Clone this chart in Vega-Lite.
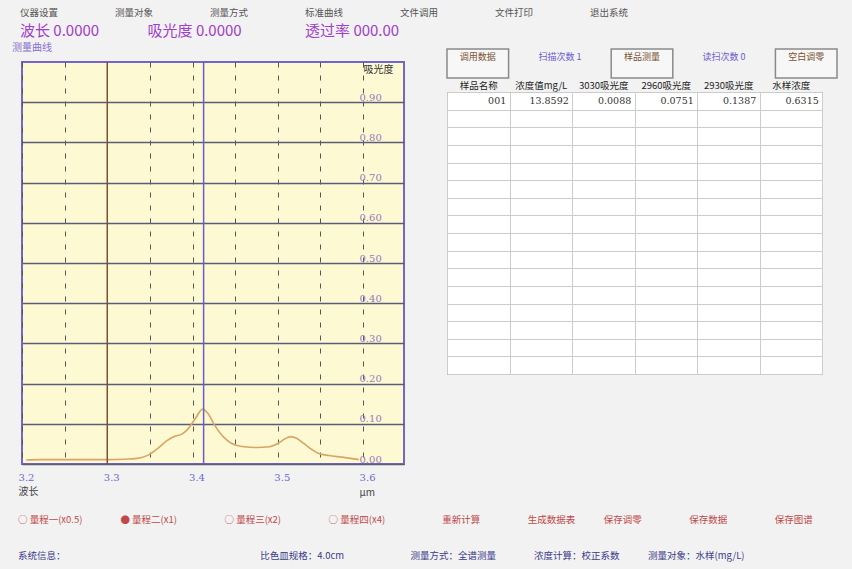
{
  "$schema": "https://vega.github.io/schema/vega-lite/v6.json",
  "background": "#f2f2f2",
  "padding": {"left": 11, "top": 7, "right": 20, "bottom": 12},
  "config": {
    "font": "Noto Sans CJK SC",
    "title": {"font": "Noto Sans CJK SC", "subtitleFont": "Noto Sans CJK SC"}
  },
  "title": {
    "text": "仪器设置　　　　　　测量对象　　　　　　测量方式　　　　　　标准曲线　　　　　　文件调用　　　　　　文件打印　　　　　　退出系统",
    "subtitle": "波长 0.0000　　　 吸光度 0.0000　　　　 透过率 000.00",
    "anchor": "start",
    "fontSize": 9.5,
    "fontWeight": "normal",
    "color": "#555555",
    "subtitleFontSize": 15,
    "subtitleColor": "#a040c8",
    "subtitlePadding": 7,
    "offset": 3,
    "dx": 9
  },
  "vconcat": [
    {
      "title": {
        "text": "○ 量程一(x0.5)　　　　● 量程二(x1)　　　　　○ 量程三(x2)　　　　　○ 量程四(x4)　　　　　　重新计算　　　　　生成数据表　　　保存调零　　　　　保存数据　　　　　保存图谱",
        "subtitle": "系统信息：　　　　　　　　　　　　　　　　　　　　　比色皿规格：4.0cm　　　　　　　测量方式：全谱测量　　　　浓度计算：校正系数　　　测量对象：水样(mg/L)",
        "orient": "bottom",
        "anchor": "start",
        "dx": 7,
        "fontSize": 9.5,
        "fontWeight": "normal",
        "color": "#c04848",
        "subtitleFontSize": 9.5,
        "subtitleColor": "#3a3a8a",
        "subtitlePadding": 26,
        "offset": 17
      },
      "spacing": 41,
      "hconcat": [
        {
          "title": {"text": "μm", "orient": "bottom", "anchor": "end", "dx": -30, "fontSize": 10, "fontWeight": "normal", "color": "#444444", "offset": -9},
          "vconcat": [
            {
              "width": 382,
              "height": 402,
              "title": {"text": "测量曲线", "anchor": "start", "fontSize": 10, "fontWeight": "normal", "color": "#8b6fd0", "offset": 8, "dx": -6},
              "view": {"fill": "#fdf9d3", "stroke": "#7565c8", "strokeWidth": 2},
              "layer": [
                {
                  "data": {"values": [
                    {"wavelength": 3.205, "absorbance": 0.010},
                    {"wavelength": 3.22, "absorbance": 0.011},
                    {"wavelength": 3.25, "absorbance": 0.011},
                    {"wavelength": 3.28, "absorbance": 0.011},
                    {"wavelength": 3.30, "absorbance": 0.011},
                    {"wavelength": 3.32, "absorbance": 0.012},
                    {"wavelength": 3.335, "absorbance": 0.014},
                    {"wavelength": 3.348, "absorbance": 0.022},
                    {"wavelength": 3.36, "absorbance": 0.040},
                    {"wavelength": 3.37, "absorbance": 0.058},
                    {"wavelength": 3.378, "absorbance": 0.068},
                    {"wavelength": 3.388, "absorbance": 0.075},
                    {"wavelength": 3.395, "absorbance": 0.088},
                    {"wavelength": 3.403, "absorbance": 0.112},
                    {"wavelength": 3.412, "absorbance": 0.137},
                    {"wavelength": 3.418, "absorbance": 0.126},
                    {"wavelength": 3.425, "absorbance": 0.100},
                    {"wavelength": 3.432, "absorbance": 0.078},
                    {"wavelength": 3.44, "absorbance": 0.060},
                    {"wavelength": 3.45, "absorbance": 0.047},
                    {"wavelength": 3.46, "absorbance": 0.043},
                    {"wavelength": 3.475, "absorbance": 0.041},
                    {"wavelength": 3.49, "absorbance": 0.043},
                    {"wavelength": 3.50, "absorbance": 0.051},
                    {"wavelength": 3.508, "absorbance": 0.062},
                    {"wavelength": 3.515, "absorbance": 0.068},
                    {"wavelength": 3.522, "absorbance": 0.064},
                    {"wavelength": 3.53, "absorbance": 0.052},
                    {"wavelength": 3.54, "absorbance": 0.036},
                    {"wavelength": 3.548, "absorbance": 0.026},
                    {"wavelength": 3.56, "absorbance": 0.021},
                    {"wavelength": 3.575, "absorbance": 0.017},
                    {"wavelength": 3.595, "absorbance": 0.011}
                  ]},
                  "mark": {"type": "line", "color": "#d9a466", "strokeWidth": 1.6, "interpolate": "monotone"},
                  "encoding": {
                    "x": {
                      "field": "wavelength", "type": "quantitative",
                      "scale": {"domain": [3.2, 3.648], "nice": false, "zero": false},
                      "axis": {
                        "values": [3.2, 3.25, 3.3, 3.35, 3.4, 3.45, 3.5, 3.55, 3.6],
                        "labelExpr": "slice(format(datum.value,'.2f'),3)=='0' ? format(datum.value,'.1f') : ''",
                        "grid": true, "gridDash": [5, 8], "gridColor": "#555555", "gridWidth": 1,
                        "domain": false, "ticks": false,
                        "labelColor": "#6a6ad0", "labelFontSize": 10, "labelPadding": 8, "labelAlign": "center", "labelOffset": 4,
                        "labelFont": "DejaVu Serif",
                        "title": "波长", "titleAnchor": "start", "titleAlign": "left", "titleColor": "#444444",
                        "titleFontSize": 10, "titleFontWeight": "normal", "titlePadding": 4, "titleX": -4
                      }
                    },
                    "y": {
                      "field": "absorbance", "type": "quantitative",
                      "scale": {"domain": [0, 1.0], "nice": false},
                      "axis": {
                        "orient": "right", "offset": -45,
                        "values": [0, 0.1, 0.2, 0.3, 0.4, 0.5, 0.6, 0.7, 0.8, 0.9],
                        "format": ".2f",
                        "grid": true, "gridColor": "#5c5c7a", "gridWidth": 1.4,
                        "domain": false, "ticks": false,
                        "labelAlign": "left", "labelBaseline": "bottom", "labelPadding": 0,
                        "labelColor": "#9a78c0", "labelFontSize": 10, "labelFont": "DejaVu Serif",
                        "title": "吸光度", "titleAngle": 0, "titleAlign": "left", "titleBaseline": "top",
                        "titleX": 4, "titleY": 2, "titleFontSize": 10, "titleFontWeight": "normal", "titleColor": "#333333"
                      }
                    }
                  }
                },
                {
                  "data": {"values": [
                    {"wavelength": 3.30, "band": "3030"},
                    {"wavelength": 3.413, "band": "2930"}
                  ]},
                  "mark": {"type": "rule", "strokeWidth": 1.5},
                  "encoding": {
                    "x": {"field": "wavelength", "type": "quantitative"},
                    "color": {"field": "band", "type": "nominal", "scale": {"domain": ["3030", "2930"], "range": ["#7a5232", "#6a5cd0"]}, "legend": null}
                  }
                }
              ]
            }
          ]
        },
        {
          "spacing": 0,
          "vconcat": [
            {
              "width": 390,
              "height": 16,
              "view": {"stroke": null, "fill": null},
              "data": {"values": [
                {"item": "调用数据", "kind": "button"},
                {"item": "扫描次数 1", "kind": "field"},
                {"item": "样品测量", "kind": "button"},
                {"item": "读扫次数 0", "kind": "field"},
                {"item": "空白调零", "kind": "button"}
              ]},
              "encoding": {
                "x": {"field": "item", "type": "nominal", "scale": {"domain": ["调用数据", "扫描次数 1", "样品测量", "读扫次数 0", "空白调零"], "paddingInner": 0.25, "paddingOuter": 0.0}, "axis": null}
              },
              "layer": [
                {
                  "transform": [{"filter": "datum.kind == 'button'"}],
                  "mark": {"type": "rect", "fill": "#f7f7f7", "stroke": "#8a8a8a", "strokeWidth": 1.5, "yOffset": -13, "y2Offset": -11},
                  "encoding": {}
                },
                {
                  "mark": {"type": "text", "fontSize": 9, "yOffset": -13},
                  "encoding": {
                    "text": {"field": "item", "type": "nominal"},
                    "color": {"field": "kind", "type": "nominal", "scale": {"domain": ["button", "field"], "range": ["#2a8a7a", "#5a9ad8"]}, "legend": null}
                  }
                }
              ]
            },
            {
              "width": 375,
              "height": 282,
              "view": {"fill": "#ffffff", "stroke": "#888888", "strokeWidth": 1},
              "data": {"values": [
                {"row": "1", "column": "样品名称", "value": "001"},
                {"row": "1", "column": "浓度值mg/L", "value": "13.8592"},
                {"row": "1", "column": "3030吸光度", "value": "0.0088"},
                {"row": "1", "column": "2960吸光度", "value": "0.0751"},
                {"row": "1", "column": "2930吸光度", "value": "0.1387"},
                {"row": "1", "column": "水样浓度", "value": "0.6315"}
              ]},
              "mark": {"type": "text", "align": "right", "dx": 28, "fontSize": 9.5, "color": "#333333", "font": "DejaVu Serif"},
              "encoding": {
                "x": {
                  "field": "column", "type": "nominal",
                  "scale": {"domain": ["样品名称", "浓度值mg/L", "3030吸光度", "2960吸光度", "2930吸光度", "水样浓度"], "paddingInner": 0, "paddingOuter": 0},
                  "axis": {"orient": "top", "grid": true, "tickBand": "extent", "gridColor": "#cccccc", "domain": false, "ticks": false, "labelAngle": 0, "labelColor": "#222222", "labelFontSize": 9.5, "labelPadding": 2, "title": null}
                },
                "y": {
                  "field": "row", "type": "ordinal",
                  "scale": {"domain": ["1","2","3","4","5","6","7","8","9","10","11","12","13","14","15","16"], "paddingInner": 0, "paddingOuter": 0},
                  "axis": {"grid": true, "tickBand": "extent", "gridColor": "#cccccc", "labels": false, "ticks": false, "domain": false, "title": null}
                },
                "text": {"field": "value", "type": "nominal"}
              }
            }
          ]
        }
      ]
    }
  ]
}
